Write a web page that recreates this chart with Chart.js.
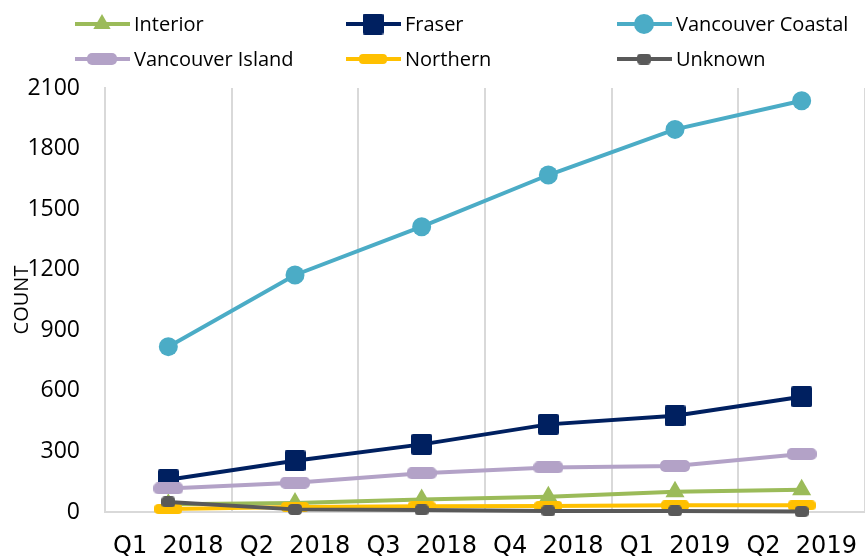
<!DOCTYPE html>
<html>
<head>
<meta charset="utf-8">
<script src="https://cdn.jsdelivr.net/npm/chart.js@4"></script>
<style>
  html, body { margin: 0; padding: 0; background: #fff; }
  #wrap { width: 865px; height: 557px; }
</style>
</head>
<body>
<div id="wrap"><canvas id="chart" width="865" height="557"></canvas></div>
<script>
// Datos
const quarters = ['Q1 2018', 'Q2 2018', 'Q3 2018', 'Q4 2018', 'Q1 2019', 'Q2 2019'];
const interior = [38, 45, 62, 76, 100, 110];
const fraser = [160, 254, 335, 434, 477, 571];
const vanCoastal = [819, 1174, 1413, 1669, 1895, 2037];
const vanIsland = [117, 145, 192, 221, 228, 287];
const northern = [15, 25, 28, 30, 33, 33];
const unknown = [50, 13, 10, 5, 5, 2];
const yTicks = [0, 300, 600, 900, 1200, 1500, 1800, 2100];

// Marcadores rectangulares redondeados
function roundMarker(w, h, r, color) {
    const c = document.createElement('canvas');
    c.width = w;
    c.height = h;
    const ctx = c.getContext('2d');
    ctx.fillStyle = color;
    ctx.beginPath();
    ctx.roundRect(0, 0, w, h, r);
    ctx.fill();
    return c;
}

const series = [
    { label: 'Interior', data: interior, color: '#9bbb59', style: 'triangle', radius: 11 },
    { label: 'Fraser', data: fraser, color: '#002060', style: roundMarker(21, 21, 2, '#002060'), radius: 11 },
    { label: 'Vancouver Coastal', data: vanCoastal, color: '#4bacc6', style: 'circle', radius: 9.5 },
    { label: 'Vancouver Island', data: vanIsland, color: '#b3a2c7', style: roundMarker(30, 12, 5, '#b3a2c7'), radius: 15 },
    { label: 'Northern', data: northern, color: '#ffc000', style: roundMarker(28, 10, 4, '#ffc000'), radius: 14 },
    { label: 'Unknown', data: unknown, color: '#595959', style: roundMarker(14, 11, 4, '#595959'), radius: 7 }
];

const datasets = series.map((s, i) => ({
    label: s.label,
    data: s.data,
    borderColor: s.color,
    backgroundColor: s.color,
    borderWidth: 4,
    pointStyle: s.style,
    pointRadius: s.radius,
    pointHoverRadius: s.radius,
    pointBorderWidth: 0,
    pointBackgroundColor: s.color,
    tension: 0,
    clip: false,
    order: series.length - i
}));

// Leyenda en columnas, como en el original
const legendPlugin = {
    id: 'columnLegend',
    afterDraw(chart) {
        const ctx = chart.ctx;
        const cols = [75, 346, 617];
        const rows = [24, 59];
        ctx.save();
        series.forEach((s, i) => {
            const x = cols[i % 3];
            const y = rows[Math.floor(i / 3)];
            ctx.strokeStyle = s.color;
            ctx.lineWidth = 4;
            ctx.beginPath();
            ctx.moveTo(x, y);
            ctx.lineTo(x + 55, y);
            ctx.stroke();
            ctx.fillStyle = s.color;
            Chart.helpers.drawPoint(ctx, {
                pointStyle: s.style,
                radius: typeof s.style === 'string' ? 10 : s.radius,
                rotation: 0,
                borderWidth: 0
            }, x + 27, y);
            ctx.fillStyle = '#000';
            ctx.font = '20px "Open Sans"';
            ctx.textBaseline = 'middle';
            ctx.textAlign = 'left';
            ctx.fillText(s.label, x + 59, y + 1);
        });
        ctx.restore();
    }
};

new Chart(document.getElementById('chart'), {
    type: 'line',
    data: { labels: quarters, datasets: datasets },
    options: {
        responsive: false,
        animation: false,
        layout: { autoPadding: false, padding: { top: 88, left: 0, right: 0, bottom: 0 } },
        plugins: {
            legend: { display: false },
            tooltip: { enabled: false }
        },
        scales: {
            x: {
                offset: true,
                grid: { display: true, offset: true, color: '#d9d9d9', lineWidth: 2, drawTicks: false },
                border: { display: true, color: '#d9d9d9', width: 2 },
                ticks: {
                    color: '#000',
                    padding: 20,
                    maxRotation: 0,
                    autoSkip: false,
                    font: { family: '"DejaVu Sans"', size: 24 },
                    callback: function (v) { return quarters[v].replace(' ', '  '); }
                },
                afterFit(scale) {
                    scale.height = 45;
                    scale.paddingLeft = 0;
                    scale.paddingRight = 0;
                }
            },
            y: {
                min: 0,
                max: 2100,
                afterBuildTicks(scale) { scale.ticks = yTicks.map(v => ({ value: v })); },
                grid: { display: false, drawTicks: false },
                border: { display: true, color: '#d9d9d9', width: 2 },
                ticks: {
                    color: '#000',
                    padding: 25,
                    font: { family: '"Open Sans"', size: 23 },
                    callback: function (v) { return String(v); }
                },
                title: {
                    display: true,
                    text: 'COUNT',
                    color: '#000',
                    font: { family: '"Open Sans"', size: 20 },
                    padding: { top: 10, bottom: 0 }
                },
                afterFit(scale) { scale.width = 105; }
            }
        }
    },
    plugins: [legendPlugin]
});
</script>
</body>
</html>
